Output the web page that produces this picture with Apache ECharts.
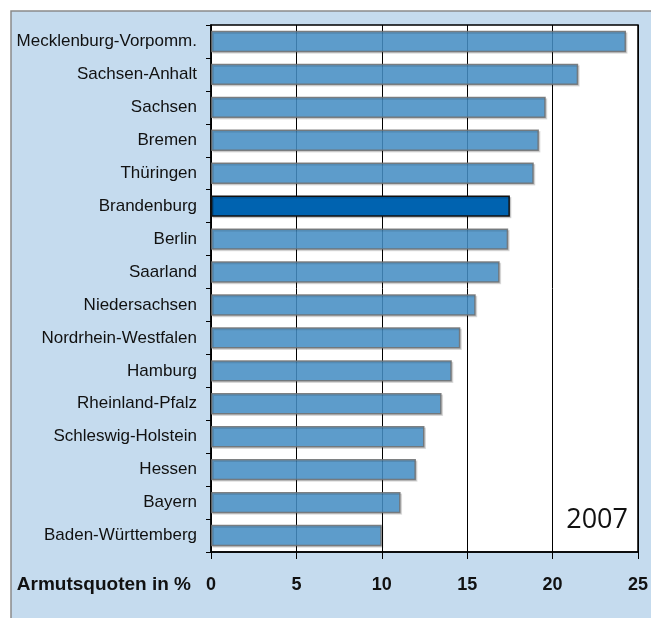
<!DOCTYPE html>
<html>
<head>
<meta charset="utf-8">
<script src="https://cdn.jsdelivr.net/npm/echarts@6/dist/echarts.min.js"></script>
<style>
html,body{margin:0;padding:0;background:#fff;}
#chart{width:651px;height:618px;}
</style>
</head>
<body>
<div id="chart"></div>
<script>
const categories = ["Mecklenburg-Vorpomm.","Sachsen-Anhalt","Sachsen","Bremen","Thüringen","Brandenburg","Berlin","Saarland","Niedersachsen","Nordrhein-Westfalen","Hamburg","Rheinland-Pfalz","Schleswig-Holstein","Hessen","Bayern","Baden-Württemberg"];
const values = [24.3,21.5,19.6,19.2,18.9,17.5,17.4,16.9,15.5,14.6,14.1,13.5,12.5,12.0,11.1,10.0];
const highlight = "Brandenburg";
const axisTitle = "Armutsquoten in %";
const yearLabel = "2007";

const chart = echarts.init(document.getElementById('chart'));
const data = categories.map((c,i)=>{
  if(c===highlight){
    return {value: values[i], itemStyle:{color:'#0063b0', borderColor:'#111', opacity:1}};
  }
  return values[i];
});
chart.setOption({
  animation:false,
  graphic:[
    {type:'rect', z:-10, shape:{x:11,y:11,width:700,height:700}, style:{fill:'#c5dbee', stroke:'#8a8a8a', lineWidth:1.5}},
    {type:'text', x:191, y:585, style:{text:axisTitle, font:'bold 19px "Liberation Sans", Arial, sans-serif', fill:'#111', textAlign:'right', textVerticalAlign:'middle'}},
    {type:'text', x:628, y:520, z:10, style:{text:yearLabel, font:'27px "Open Sans", sans-serif', fill:'#111', textAlign:'right', textVerticalAlign:'middle'}}
  ],
  grid:{left:211, right:11, top:25, bottom:66, show:true, backgroundColor:'#fff', borderColor:'#000', borderWidth:1.5, containLabel:false},
  xAxis:{
    type:'value', min:0, max:25, interval:5,
    axisLine:{show:true, lineStyle:{color:'#000', width:1.5}},
    axisTick:{show:true, length:7, lineStyle:{color:'#000', width:1}},
    splitLine:{show:true, lineStyle:{color:'#000', width:1}},
    axisLabel:{color:'#111', fontSize:18, fontWeight:'bold', fontFamily:'"Liberation Sans", Arial, sans-serif', margin:24}
  },
  yAxis:{
    type:'category', data:categories, inverse:true,
    axisLine:{show:true, lineStyle:{color:'#000', width:1.5}},
    axisTick:{show:true, length:5, lineStyle:{color:'#000', width:1}},
    axisLabel:{color:'#111', fontSize:17, fontFamily:'"Liberation Sans", Arial, sans-serif', margin:14}
  },
  series:[{
    type:'bar', data:data, barCategoryGap:'35%',
    itemStyle:{color:'#4691c8', opacity:0.85, borderColor:'#6e6e6e', borderWidth:1.5,
      shadowColor:'rgba(0,0,0,0.15)', shadowOffsetX:1.5, shadowOffsetY:1.5, shadowBlur:0}
  }]
});
</script>
</body>
</html>
